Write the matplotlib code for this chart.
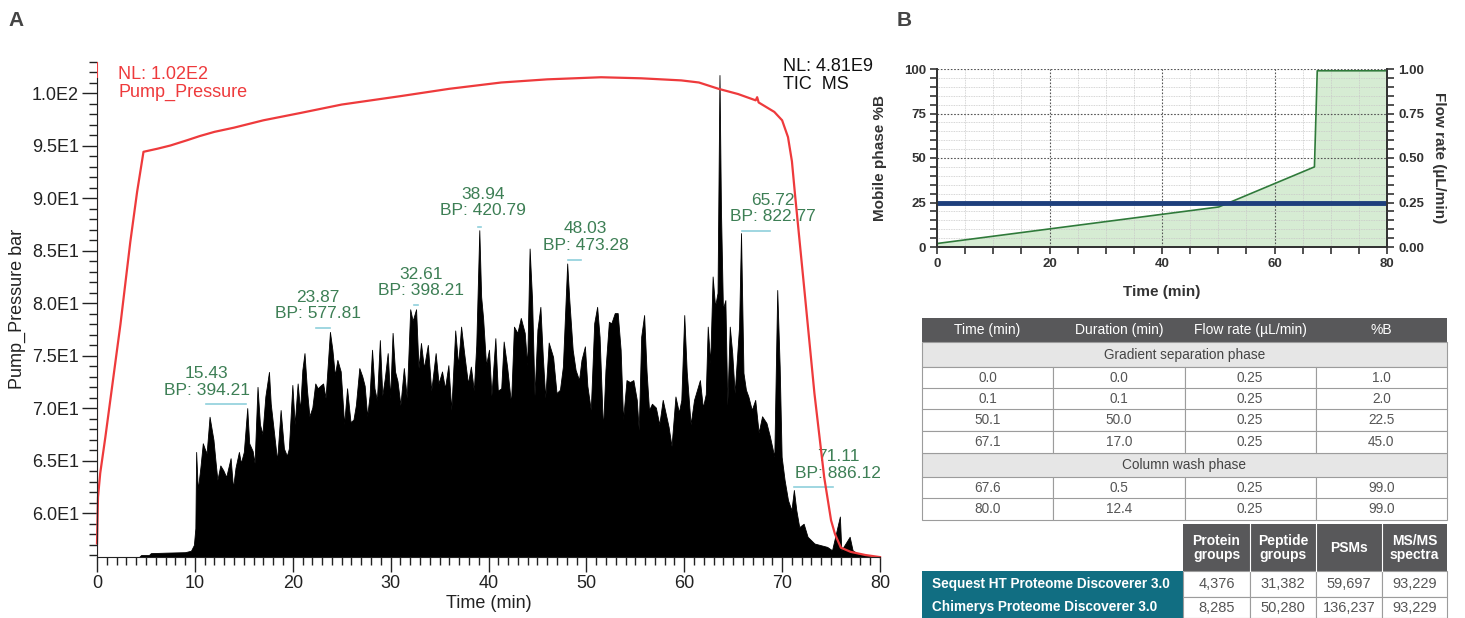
import math
import matplotlib
matplotlib.use('Agg')
import matplotlib.pyplot as plt
from matplotlib.ticker import MultipleLocator, FuncFormatter
from matplotlib.patches import Rectangle

plt.rcParams['font.family'] = ['Liberation Sans', 'DejaVu Sans']
NARROW = ['Liberation Sans Narrow', 'Liberation Sans', 'DejaVu Sans']

# ---------------- panel A: pump pressure + TIC ----------------
press_t = [0.0, 0.1, 0.33, 0.85, 2.4, 3.4, 4.1, 4.75, 6.2, 7.5, 9.2, 10.5, 12.0, 14.0,
           17.0, 20.8, 25.0, 28.0, 31.0, 36.0, 41.3, 46.0, 51.5, 55.6, 59.7, 61.5, 63.5,
           65.5, 67.3, 67.45, 67.6, 69.2, 70.0, 70.6, 71.0, 71.3, 72.3, 73.3, 74.3,
           75.0, 75.4, 76.0, 77.0, 78.5, 80.0]
press_bar = [57.1, 61.5, 63.8, 67.2, 78.0, 85.8, 90.6, 94.4, 94.7, 95.0, 95.5, 95.9, 96.3, 96.7,
             97.4, 98.1, 98.9, 99.3, 99.7, 100.4, 101.0, 101.3, 101.5, 101.4, 101.2, 101.0, 100.4,
             99.9, 99.3, 99.6, 99.1, 98.2, 97.4, 95.8, 93.5, 90.5, 81.0, 71.4, 63.4,
             59.3, 58.0, 56.7, 56.3, 56.0, 55.8]

tic_t = [0, 4.3, 4.5, 5.3, 5.5, 7.0, 9.0, 9.6, 9.9, 10.05, 10.13, 10.3, 10.57, 10.81, 11.0,
         11.2, 11.5, 11.9, 12.1, 12.3, 12.45, 12.6, 12.9, 13.2, 13.65, 13.9, 14.15, 14.5,
         14.7, 15.0, 15.35, 15.55, 15.9, 16.1, 16.4, 16.65, 16.9, 17.2, 17.57, 17.75, 18.1,
         18.4, 18.76, 19.1, 19.4, 19.6, 19.96, 20.2, 20.5, 20.75, 20.98, 21.2, 21.45, 21.7,
         22.0, 22.3, 22.55, 22.8, 23.1, 23.35, 23.8, 24.05, 24.3, 24.56, 24.9, 25.25, 25.55,
         25.9, 26.2, 26.45, 26.8, 27.1, 27.35, 27.6, 27.85, 28.1, 28.35, 28.6, 28.9, 29.15,
         29.4, 29.7, 29.95, 30.2, 30.45, 30.7, 31.0, 31.35, 31.65, 32.0, 32.25, 32.6, 32.85,
         33.1, 33.4, 33.8, 34.15, 34.6, 34.9, 35.25, 35.55, 35.9, 36.2, 36.6, 36.9, 37.2,
         37.5, 37.9, 38.2, 38.5, 38.75, 39.06, 39.25, 39.45, 39.75, 40.05, 40.3, 40.7, 40.95,
         41.3, 41.55, 41.9, 42.3, 42.6, 42.95, 43.3, 43.7, 43.95, 44.2, 44.45, 44.7, 45.0,
         45.3, 45.55, 45.8, 46.15, 46.6, 46.95, 47.3, 47.6, 48.04, 48.25, 48.6, 48.9, 49.25,
         49.5, 49.85, 50.1, 50.45, 50.8, 51.1, 51.35, 51.7, 51.95, 52.3, 52.55, 52.9, 53.2,
         53.5, 53.75, 54.1, 54.45, 54.8, 55.15, 55.35, 55.6, 55.9, 56.15, 56.4, 56.7, 57.1,
         57.45, 57.8, 58.1, 58.4, 58.7, 59.1, 59.45, 59.7, 60.0, 60.25, 60.65, 61.0, 61.6,
         61.9, 62.2, 62.4, 62.65, 62.9, 63.15, 63.4, 63.6, 63.75, 63.95, 64.2, 64.4, 64.65,
         64.9, 65.15, 65.6, 65.8, 66.05, 66.3, 66.55, 66.9, 67.25, 67.6, 67.95, 68.4, 68.75,
         69.2, 69.5, 69.75, 69.95, 70.25, 70.6, 70.95, 71.2, 71.45, 71.75, 72.2, 72.6, 73.3,
         74.6, 75.1, 75.9, 76.05, 76.9, 77.2, 77.7, 80.0]
tic_rel = [0.0, 0.0, 0.4, 0.4, 0.8, 0.9, 1.0, 1.3, 2.5, 6.0, 21.8, 13.9, 18.7, 23.6, 22.5,
           21.5, 29.1, 24.3, 20.0, 16.0, 17.5, 19.0, 18.0, 16.6, 20.5, 14.3, 18.5, 21.8,
           19.5, 21.8, 30.9, 23.6, 22.0, 19.5, 35.3, 27.5, 25.5, 33.3, 38.4, 31.8, 25.5,
           20.0, 30.5, 22.5, 21.0, 22.5, 35.7, 27.5, 36.0, 30.5, 38.8, 42.3, 34.7, 29.2,
           31.0, 36.0, 35.0, 35.5, 36.0, 33.0, 46.7, 43.0, 37.7, 40.9, 38.5, 27.5, 35.0,
           28.0, 28.5, 31.5, 39.2, 37.5, 35.5, 29.2, 33.5, 43.0, 35.0, 32.5, 45.0, 33.5,
           37.0, 42.3, 33.0, 46.5, 38.5, 36.5, 31.5, 39.2, 33.0, 51.4, 49.0, 51.4, 39.2,
           44.4, 39.2, 44.0, 34.5, 42.3, 36.0, 38.5, 35.0, 39.8, 30.5, 47.0, 39.8, 47.8,
           42.5, 36.0, 39.5, 34.5, 44.0, 67.8, 54.0, 49.5, 39.8, 43.0, 33.5, 45.4, 34.5,
           35.0, 44.7, 39.5, 31.8, 47.8, 46.5, 49.6, 46.5, 39.8, 64.0, 53.5, 33.5, 47.2,
           51.9, 41.5, 33.0, 44.5, 41.5, 34.0, 34.7, 39.5, 60.9, 53.5, 43.0, 38.8, 36.7,
           40.9, 43.7, 35.5, 30.5, 48.5, 51.9, 45.7, 26.3, 38.8, 48.8, 48.5, 50.6, 50.6,
           43.0, 28.5, 36.7, 36.3, 36.7, 32.6, 26.3, 45.7, 50.2, 38.5, 30.5, 31.8, 31.0,
           27.5, 32.6, 29.8, 27.0, 23.0, 33.3, 30.0, 32.6, 50.2, 38.5, 27.5, 32.6, 36.7,
           31.0, 33.8, 47.8, 40.2, 58.2, 52.0, 54.8, 100.0, 72.0, 51.5, 53.3, 31.5, 47.8,
           42.3, 34.0, 47.8, 67.2, 38.2, 34.7, 33.3, 30.5, 32.6, 25.8, 29.2, 27.8, 25.0,
           20.8, 55.4, 39.5, 20.8, 16.0, 11.8, 9.7, 13.9, 9.7, 6.2, 6.9, 4.2, 2.8,
           2.1, 1.4, 8.4, 1.4, 4.2, 1.4, 0.7, 0.0]

peak_rt = ['15.43', '23.87', '32.61', '38.94', '48.03', '65.72', '71.11']
peak_bp = ['394.21', '577.81', '398.21', '420.79', '473.28', '822.77', '886.12']
# label centre (time, rel. abundance) and underline (t0, t1, level)
lbl_pos = [(11.2, 36.3), (22.6, 52.2), (33.1, 57.0), (39.4, 73.5),
           (49.9, 66.4), (69.1, 72.3), (75.7, 19.1)]
lbl_line = [(11.1, 15.2, 31.7), (22.35, 23.8, 47.5), (32.4, 32.75, 52.3),
            (38.9, 39.2, 68.5), (48.1, 49.5, 61.6), (65.85, 68.75, 67.6),
            (71.2, 75.2, 14.6)]

# ---------------- panel B: gradient + tables ----------------
grad_time = [0.0, 0.1, 50.1, 67.1, 67.6, 80.0]
grad_dur = [0.0, 0.1, 50.0, 17.0, 0.5, 12.4]
grad_flow = [0.25, 0.25, 0.25, 0.25, 0.25, 0.25]
grad_pctB = [1.0, 2.0, 22.5, 45.0, 99.0, 99.0]
tbl_header = ['Time (min)', 'Duration (min)', 'Flow rate (µL/min)', '%B']

software = ['Sequest HT Proteome Discoverer 3.0', 'Chimerys Proteome Discoverer 3.0']
res_header = ['Protein\ngroups', 'Peptide\ngroups', 'PSMs', 'MS/MS\nspectra']
protein_groups = [4376, 8285]
peptide_groups = [31382, 50280]
psms = [59697, 136237]
msms_spectra = [93229, 93229]

W, H = 1465, 618
fig = plt.figure(figsize=(W / 100, H / 100), dpi=100)

RED = '#ee3a3c'
GREEN = '#3d7f55'

ax = fig.add_axes([97 / W, 1 - 557 / H, 783 / W, 495.5 / H])
ax2 = ax.twinx()
ax2.fill_between(tic_t, tic_rel, 0, color='black', lw=0.6, edgecolor='black')
ax2.set_ylim(0, 102.8)
ax2.axis('off')
ax.set_zorder(ax2.get_zorder() + 1)
ax.patch.set_visible(False)

ax.plot(press_t, press_bar, color=RED, lw=1.6, clip_on=False)
ax.axvline(0, color=RED, lw=0.8)
ax.set_xlim(0, 80)
ax.set_ylim(55.81, 103.0)
for s in ['top', 'right']:
    ax.spines[s].set_visible(False)
ax.spines['left'].set_bounds(55.81, 101.4)
ax.spines['left'].set_color('#222')
ax.spines['bottom'].set_color('#222')
ax.xaxis.set_major_locator(MultipleLocator(10))
ax.xaxis.set_minor_locator(MultipleLocator(1))
ax.yaxis.set_minor_locator(MultipleLocator(1))
ax.set_yticks([60, 65, 70, 75, 80, 85, 90, 95, 100])


def sci(v, _):
    e = int(math.floor(math.log10(v)))
    return f'{v / 10 ** e:.1f}E{e}'


ax.yaxis.set_major_formatter(FuncFormatter(sci))
ax.tick_params(which='major', length=11, width=1, labelsize=13, colors='#222', pad=2)
ax.tick_params(which='minor', length=6, width=1, colors='#222')
ax.set_xlabel('Time (min)', fontsize=13, color='#222', labelpad=2)
ax.set_ylabel('Pump_Pressure bar', fontsize=13, color='#222', labelpad=4)

for rt, bp, (tx, ry), (l0, l1, ly) in zip(peak_rt, peak_bp, lbl_pos, lbl_line):
    ax2.text(tx, ry, f'{rt}\nBP: {bp}', color=GREEN, fontsize=12.5, ha='center',
             va='center', linespacing=1.1, clip_on=False)
    ax2.plot([l0, l1], [ly, ly], color='#8fd0db', lw=1.2)

fig.text(118 / W, 1 - 66 / H, 'NL: 1.02E2\nPump_Pressure', color=RED, fontsize=13,
         va='top', ha='left', linespacing=1.1)
fig.text(783 / W, 1 - 58 / H, 'NL: 4.81E9\nTIC  MS', color='#111', fontsize=13,
         va='top', ha='left', linespacing=1.1)

# gradient chart
axB = fig.add_axes([937 / W, 1 - 247 / H, 450 / W, 178 / H])
axB.fill_between(grad_time, grad_pctB, 0, color='#d6ecd3', lw=0)
axB.plot(grad_time, grad_pctB, color='#2f7a3a', lw=1.2, zorder=3)
axB.set_xlim(0, 80)
axB.set_ylim(0, 100)
axB.xaxis.set_major_locator(MultipleLocator(20))
axB.xaxis.set_minor_locator(MultipleLocator(5))
axB.yaxis.set_major_locator(MultipleLocator(25))
axB.yaxis.set_minor_locator(MultipleLocator(5))
axB.set_axisbelow(False)
axB.grid(which='minor', color='#c8c8c8', ls=(0, (1, 1)), lw=0.6)
axB.grid(which='major', color='#555', ls=(0, (1.5, 1.5)), lw=0.8)
axB.spines['top'].set_visible(False)
axB2 = axB.twinx()
axB2.plot(grad_time, grad_flow, color='#1e3f7c', lw=3.5)
axB2.set_ylim(0, 1)
axB2.yaxis.set_major_locator(MultipleLocator(0.25))
axB2.yaxis.set_minor_locator(MultipleLocator(0.05))
axB2.yaxis.set_major_formatter(FuncFormatter(lambda v, _: f'{v:.2f}'))
axB2.spines['top'].set_visible(False)
for a in (axB, axB2):
    for s in a.spines.values():
        s.set_color('#333')
        s.set_linewidth(1.3)
    a.tick_params(which='both', length=5, width=1.2, colors='#333', labelsize=9.5, pad=3)
    for lab in a.get_xticklabels() + a.get_yticklabels():
        lab.set_fontfamily(NARROW)
        lab.set_fontweight('bold')
axB.set_xlabel('Time (min)', fontsize=11, fontweight='bold', family=NARROW,
               color='#333', labelpad=11)
axB.set_ylabel('Mobile phase %B', fontsize=11, fontweight='bold', family=NARROW,
               color='#333', labelpad=12)
axB2.set_ylabel('Flow rate (µL/min)', fontsize=11, fontweight='bold', family=NARROW,
                color='#333', rotation=270, labelpad=16)

# overlay for tables and panel letters (pixel coordinates)
ov = fig.add_axes([0, 0, 1, 1])
ov.set_xlim(0, W)
ov.set_ylim(H, 0)
ov.axis('off')
ov.text(8, 20, 'A', fontsize=15, fontweight='bold', family=NARROW, color='#444', va='center')
ov.text(897, 20, 'B', fontsize=15, fontweight='bold', family=NARROW, color='#444', va='center')

DARK = '#58585a'
LIGHT = '#e6e6e6'
LINE = '#9c9c9c'
TXT = '#555555'
x0, cw = 922, 131.25
ov.add_patch(Rectangle((x0, 318), 4 * cw, 24, color=DARK, lw=0))
for i, h in enumerate(tbl_header):
    ov.text(x0 + (i + 0.5) * cw, 330, h, color='white', fontsize=10, ha='center', va='center')

rows_y = [367, 388, 409, 431, 477, 498]
row_h = 21.5
for y, lab in [(342, 'Gradient separation phase'), (453, 'Column wash phase')]:
    ov.add_patch(Rectangle((x0, y), 4 * cw, 24.5, facecolor=LIGHT, edgecolor=LINE, lw=0.8))
    ov.text(x0 + 2 * cw, y + 12.5, lab, color='#444', fontsize=9.8, ha='center', va='center')
for k, y in enumerate(rows_y):
    vals = [f'{grad_time[k]:.1f}', f'{grad_dur[k]:.1f}', f'{grad_flow[k]:.2f}',
            f'{grad_pctB[k]:.1f}']
    for i, v in enumerate(vals):
        ov.add_patch(Rectangle((x0 + i * cw, y), cw, row_h, facecolor='white',
                               edgecolor=LINE, lw=0.8))
        ov.text(x0 + (i + 0.5) * cw, y + row_h / 2 + 0.5, v, color=TXT, fontsize=9.8,
                ha='center', va='center')

# results table
rx = [1183, 1250, 1316, 1382, 1447]
ov.add_patch(Rectangle((rx[0], 524), rx[-1] - rx[0], 47, color=DARK, lw=0))
for i, h in enumerate(res_header):
    if i > 0:
        ov.plot([rx[i], rx[i]], [524, 571], color='white', lw=0.8)
    ov.text((rx[i] + rx[i + 1]) / 2, 548, h, color='white', fontsize=10, fontweight='bold',
            ha='center', va='center', linespacing=1.0)
res_cols = [protein_groups, peptide_groups, psms, msms_spectra]
res_y = [(571, 25.5), (597, 21)]
for k, (y, hh) in enumerate(res_y):
    ov.add_patch(Rectangle((x0, y), rx[0] - x0, hh, color='#116e82', lw=0))
    ov.text(x0 + 10, y + hh / 2, software[k], color='white', fontsize=9.8, fontweight='bold',
            ha='left', va='center')
    for i, col in enumerate(res_cols):
        ov.add_patch(Rectangle((rx[i], y), rx[i + 1] - rx[i], hh, facecolor='white',
                               edgecolor=LINE, lw=0.8))
        ov.text((rx[i] + rx[i + 1]) / 2, y + hh / 2, f'{col[k]:,}', color=TXT, fontsize=10.5,
                ha='center', va='center')

fig.savefig('out.png', dpi=100)
